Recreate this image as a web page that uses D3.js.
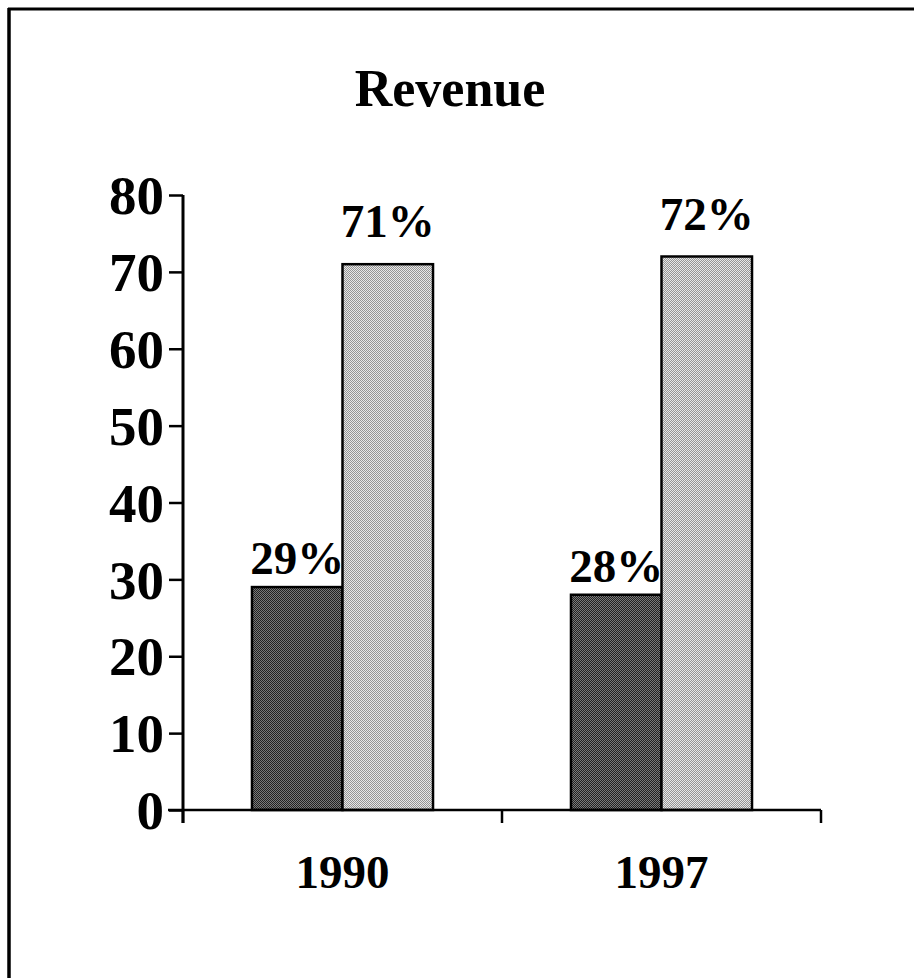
<!DOCTYPE html>
<html>
<head>
<meta charset="utf-8">
<script src="https://cdn.jsdelivr.net/npm/d3@7"></script>
<style>
  html, body { margin: 0; padding: 0; background: #fff; }
  svg { display: block; }
  text { font-family: "Liberation Serif", "Times New Roman", serif; font-weight: bold; fill: #000; }
</style>
</head>
<body>
<svg id="chart" width="914" height="978"></svg>
<script>
const title = "Revenue";
const years = ["1990", "1997"];
const seriesNames = ["A", "B"];
const seriesA = [29, 28];
const seriesB = [71, 72];
const labelsA = ["29%", "28%"];
const labelsB = ["71%", "72%"];
const yTicks = [0, 10, 20, 30, 40, 50, 60, 70, 80];

const svg = d3.select("#chart");
const W = 914, H = 978;
svg.append("rect").attr("x", 0).attr("y", 0).attr("width", W).attr("height", H).attr("fill", "#fff");

// frame (top and left edges visible)
svg.append("line").attr("x1", 8).attr("x2", W).attr("y1", 9).attr("y2", 9).attr("stroke", "#000").attr("stroke-width", 3);
svg.append("line").attr("x1", 9).attr("x2", 9).attr("y1", 8).attr("y2", H).attr("stroke", "#000").attr("stroke-width", 3.5);

// dithered patterns
const defs = svg.append("defs");
function pat(id, c1, c2) {
  const p = defs.append("pattern").attr("id", id).attr("width", 2).attr("height", 2).attr("patternUnits", "userSpaceOnUse");
  p.append("rect").attr("width", 2).attr("height", 2).attr("fill", c1);
  p.append("rect").attr("width", 1).attr("height", 1).attr("fill", c2);
  p.append("rect").attr("x", 1).attr("y", 1).attr("width", 1).attr("height", 1).attr("fill", c2);
}
pat("patA", "#222222", "#7a7a7a");
pat("patB", "#959595", "#e8e8e8");

const x0 = d3.scaleBand().domain(years).range([183, 821]).paddingInner(0).paddingOuter(0);
const x1 = d3.scaleBand().domain(seriesNames).range([0, x0.bandwidth()]).paddingInner(0).paddingOuter(0.762);
const y = d3.scaleLinear().domain([0, 80]).range([810, 195]);

// title
svg.append("text").attr("x", 450).attr("y", 106).attr("text-anchor", "middle")
  .style("font-size", "52px").text(title);

// bars
const data = years.map((yr, i) => ({ yr, vals: [
  { s: "A", v: seriesA[i], lab: labelsA[i], fill: "url(#patA)", off: 13 },
  { s: "B", v: seriesB[i], lab: labelsB[i], fill: "url(#patB)", off: 27 }
]}));

const g = svg.selectAll("g.grp").data(data).join("g").attr("class", "grp")
  .attr("transform", d => `translate(${x0(d.yr)},0)`);
g.selectAll("rect").data(d => d.vals).join("rect")
  .attr("x", d => x1(d.s))
  .attr("y", d => y(d.v))
  .attr("width", x1.bandwidth())
  .attr("height", d => y(0) - y(d.v))
  .attr("fill", d => d.fill)
  .attr("stroke", "#000").attr("stroke-width", 2.5);
g.selectAll("text").data(d => d.vals).join("text")
  .attr("x", d => x1(d.s) + x1.bandwidth() / 2)
  .attr("y", d => y(d.v) - d.off)
  .attr("text-anchor", "middle")
  .style("font-size", "47px")
  .text(d => d.lab);

// y axis
const yAxis = d3.axisLeft(y).tickValues(yTicks).tickSize(14).tickPadding(5).tickSizeOuter(0);
const ya = svg.append("g").attr("transform", "translate(183,0)").call(yAxis);
ya.select(".domain").attr("stroke", "#000").attr("stroke-width", 3).attr("d", "M0,195V823");
ya.selectAll(".tick line").attr("stroke", "#000").attr("stroke-width", 2.5);
ya.selectAll(".tick text").style("font-size", "55px").style("font-family", '"Liberation Serif", serif').style("font-weight", "bold").attr("dy", "0.34em");

// x axis
const xTickPos = d3.scaleLinear().domain([0, years.length]).range([183, 821]);
const xa = svg.append("g");
xa.append("line").attr("x1", 168).attr("x2", 821).attr("y1", 810).attr("y2", 810).attr("stroke", "#000").attr("stroke-width", 2.5);
xa.selectAll("line.tk").data(d3.range(years.length + 1)).join("line").attr("class", "tk")
  .attr("x1", d => xTickPos(d)).attr("x2", d => xTickPos(d))
  .attr("y1", 810).attr("y2", 823).attr("stroke", "#000").attr("stroke-width", 2.5);
xa.selectAll("text").data(years).join("text")
  .attr("x", d => x0(d) + x0.bandwidth() / 2)
  .attr("y", 888)
  .attr("text-anchor", "middle")
  .style("font-size", "47px")
  .text(d => d);
</script>
</body>
</html>
